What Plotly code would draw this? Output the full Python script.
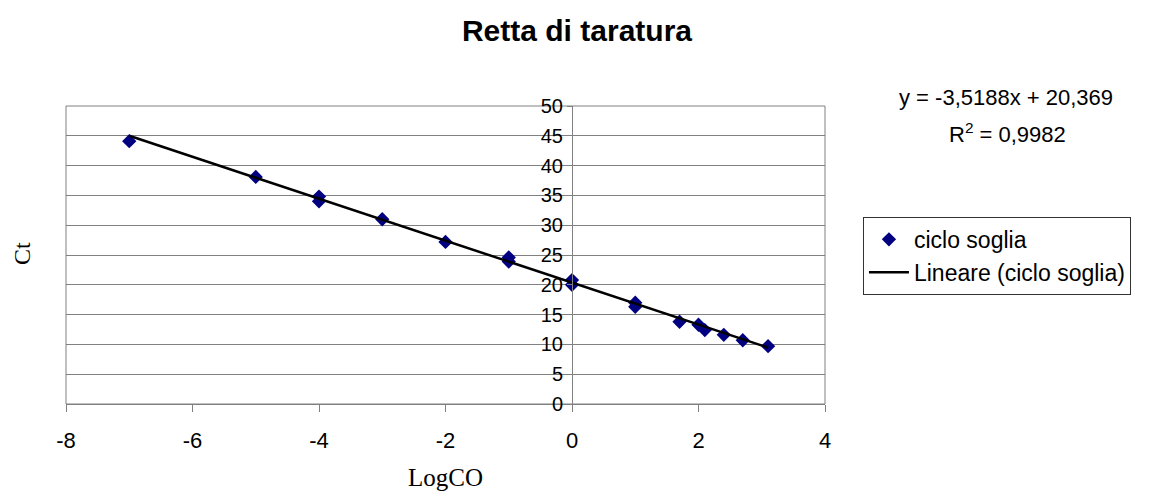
"""Retta di taratura - calibration line"""
import numpy as np
import plotly.graph_objects as go

# data
log_co = [-7, -5, -4, -4, -3, -2, -1, -1, 0, 0, 1, 1, 1.7, 2.0, 2.1, 2.4, 2.7, 3.1]
ciclo_soglia = [44.1, 38.1, 34.8, 34.0, 31.0, 27.2, 24.6, 23.9, 20.8, 20.0,
                17.0, 16.3, 13.8, 13.3, 12.4, 11.6, 10.7, 9.7]

# trendline as reported on the chart
slope = -3.5188
intercept = 20.369
r_squared = "0,9982"

x_ticks = [-8, -6, -4, -2, 0, 2, 4]
x_tick_labels = ['-8', '-6', '-4', '-2', '0', '2', '4']
y_ticks = [0, 5, 10, 15, 20, 25, 30, 35, 40, 45, 50]

trend_x = np.array([min(log_co), max(log_co)])
trend_y = slope * trend_x + intercept

GRAY = '#808080'
SERIF = 'Liberation Serif, Times New Roman'

fig = go.Figure()
fig.add_trace(
    go.Scatter(
        x=log_co,
        y=ciclo_soglia,
        mode='markers',
        name='ciclo soglia',
        marker=dict(symbol='diamond', size=11, color='#000080')
    )
)
fig.add_trace(
    go.Scatter(
        x=trend_x,
        y=trend_y,
        mode='lines',
        name='Lineare (ciclo soglia)',
        line=dict(color='black', width=2.5)
    )
)

fig.update_layout(
    width=1160,
    height=494,
    margin=dict(l=58, r=343, t=98, b=98),
    plot_bgcolor='white',
    paper_bgcolor='white',
    font=dict(family='Liberation Sans, Arial', size=20, color='black'),
    title=dict(
        text='<b>Retta di taratura</b>',
        x=0.4905, xref='container', xanchor='center',
        y=0.955, yref='container', yanchor='middle',
        font=dict(size=30)
    ),
    legend=dict(
        x=1.05, y=0.628, xanchor='left', yanchor='top',
        bordercolor='#333333', borderwidth=1,
        font=dict(size=23),
        itemwidth=40,
        tracegroupgap=0
    ),
    showlegend=True,
    shapes=[
        dict(type='rect', xref='paper', yref='paper', x0=0, x1=1, y0=0, y1=1,
             line=dict(color=GRAY, width=1), layer='below')
    ],
    annotations=[
        dict(text='y = -3,5188x + 20,369', xref='paper', yref='paper',
             x=1.2385, y=1.03, xanchor='center', yanchor='middle',
             showarrow=False, font=dict(size=22)),
        dict(text='R<sup>2</sup> = ' + r_squared, xref='paper', yref='paper',
             x=1.24, y=0.909, xanchor='center', yanchor='middle',
             showarrow=False, font=dict(size=22)),
        dict(text='Ct', xref='paper', yref='paper', x=-0.058, y=0.507,
             xanchor='center', yanchor='middle',
             textangle=-90, showarrow=False,
             font=dict(family=SERIF, size=24)),
    ]
)
fig.update_xaxes(
    range=[-8, 4],
    tickvals=x_ticks,
    ticktext=x_tick_labels,
    ticks='outside', ticklen=7, tickcolor=GRAY,
    ticklabelstandoff=10,
    showline=True, linecolor=GRAY, linewidth=1,
    showgrid=False, zeroline=False,
    tickfont=dict(size=22),
    title=dict(text='LogCO', standoff=16, font=dict(family=SERIF, size=25))
)
fig.update_yaxes(
    range=[0, 50],
    tickvals=y_ticks,
    anchor='free', position=8 / 12,
    ticks='outside', ticklen=5, tickcolor=GRAY,
    showline=True, linecolor=GRAY, linewidth=1,
    showgrid=True, gridcolor=GRAY, gridwidth=1,
    zeroline=False,
    tickfont=dict(size=20)
)

fig.write_html("out.html")
